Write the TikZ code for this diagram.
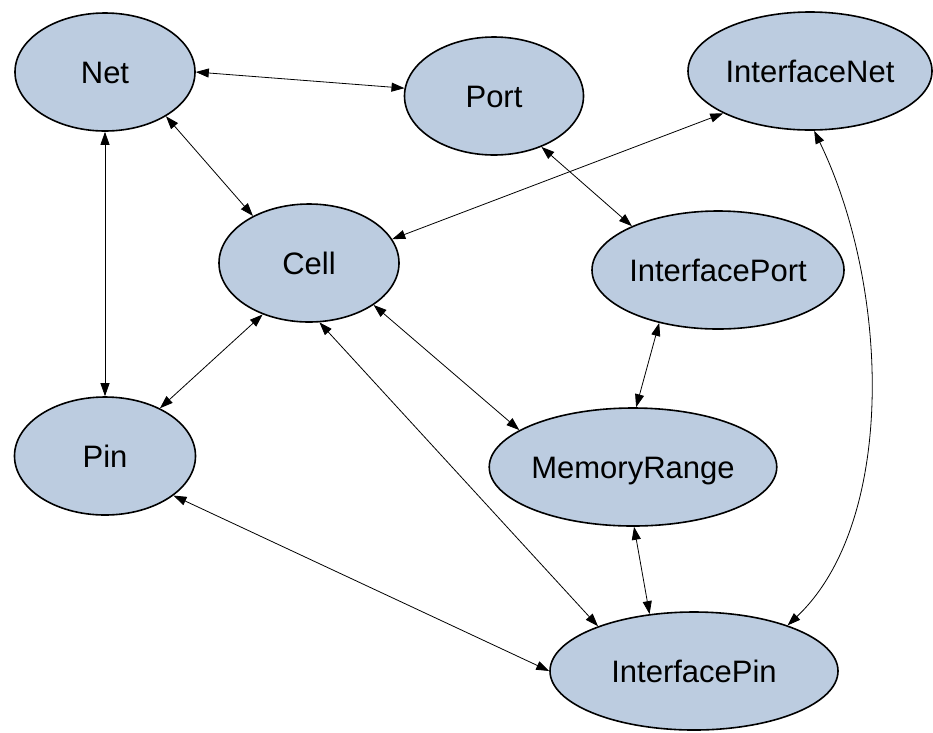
\documentclass[tikz,border=0pt]{standalone}
\usepackage{fontspec}
\setmainfont{Liberation Sans}
\usetikzlibrary{shapes.geometric, arrows.meta}
\definecolor{nodeblue}{RGB}{188,204,224}

\begin{document}
\begin{tikzpicture}[
    x=1pt, y=-1pt,
    entity/.style={ellipse, draw, line width=1.6pt, fill=nodeblue, inner sep=0pt, minimum height=118pt, font=\fontsize{31}{36}\selectfont, text height=22pt, text depth=0pt},
    arrow/.style={<->, >={Triangle[length=13pt, width=9pt]}, line width=0.8pt}
]
\useasboundingbox (0,0) rectangle (933,732);

% Top row
\node[entity, minimum width=180pt] (net) at (105,72) {Net};
\node[entity, minimum width=179pt] (port) at (494,96) {Port};
\node[entity, minimum width=244pt] (inet) at (810,71) {InterfaceNet};

% Middle
\node[entity, minimum width=180pt] (cell) at (309,263) {Cell};
\node[entity, minimum width=252pt] (iport) at (718,270) {InterfacePort};

% Bottom
\node[entity, minimum width=181pt] (pin) at (105,456) {Pin};
\node[entity, minimum width=276pt] (memrange) at (633,467) {MemoryRange};
\node[entity, minimum width=288pt] (ipin) at (694,671) {InterfacePin};

% Arrows
\draw[arrow] (net.0) -- (port.175);
\draw[arrow] (net.-36) -- (cell.140);
\draw[arrow] (net.-90) -- (pin.90);
\draw[arrow] (cell.228) -- (pin.41);
\draw[arrow] (cell.16) -- (inet.206);
\draw[arrow] (port.-47) -- (iport.153);
\draw[arrow] (iport.222) -- (memrange.87);
\draw[arrow] (cell.-33) -- (memrange.162);
\draw[arrow] (cell.-80) -- (ipin.155);
\draw[arrow] (pin.-30) -- (ipin.180);
\draw[arrow] (memrange.-89) -- (ipin.128);
\draw[arrow] (inet.-86) .. controls +(76,157) and +(109,-103) .. (ipin.26);

\end{tikzpicture}
\end{document}
